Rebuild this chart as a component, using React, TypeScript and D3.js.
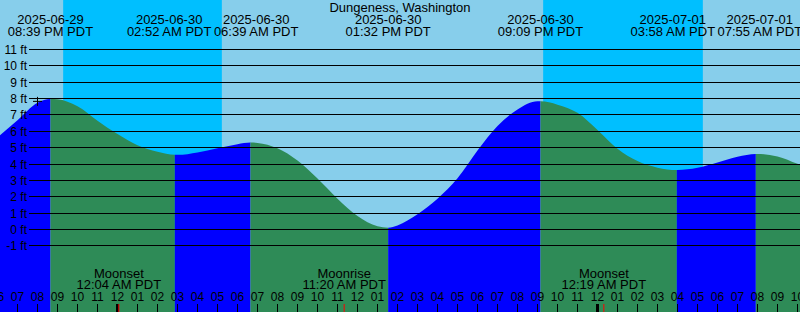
import React from "react";
import * as d3 from "d3";

const title = "Dungeness, Washington";

// Tide extremes (local PDT wall-clock)
const tideTimes = [
  "2025-06-29 20:39",
  "2025-06-30 02:52",
  "2025-06-30 06:39",
  "2025-06-30 13:32",
  "2025-06-30 21:09",
  "2025-07-01 03:58",
  "2025-07-01 07:55",
];
const tideHeights = [7.95, 4.53, 5.28, 0.08, 7.8, 3.61, 4.59];
const tideTypes = ["H", "L", "H", "L", "H", "L", "H"];

// Hourly tide readings, starting at hourlyStart, one per hour (ft)
const hourlyStart = "2025-06-29 18:00";
const hourlyHeights = [
  5.6, 6.65, 7.72, 7.93, 7.5, 6.62, 5.8, 5.12, 4.72, 4.53, 4.68, 4.93, 5.18,
  5.26, 4.93, 4.18, 3.08, 1.85, 0.8, 0.17, 0.22, 0.9, 1.85, 3.1, 4.8, 6.3, 7.3,
  7.8, 7.6, 7.1, 6.05, 4.9, 4.15, 3.75, 3.61, 3.75, 4.07, 4.42, 4.59, 4.43,
  3.98, 3.5,
];

// Sun: night intervals [sunset, sunrise]
const sunsets = ["2025-06-29 21:17", "2025-06-30 21:17"];
const sunrises = ["2025-06-30 05:13", "2025-07-01 05:16"];

// Moon events
const moonTimes = ["2025-06-30 00:04", "2025-06-30 11:20", "2025-07-01 00:19"];
const moonNames = ["Moonset", "Moonrise", "Moonset"];

// Current time marker
const nowTime = "2025-06-29 20:00";
const nowHeight = 7.8;

const yTicks = [-1, 0, 1, 2, 3, 4, 5, 6, 7, 8, 9, 10, 11];
const domainStart = "2025-06-29 18:07:30";
const domainEnd = "2025-07-01 10:07:30";

const W = 800;
const H = 312;
const FONT = "'Liberation Sans', Arial, Helvetica, sans-serif";
const SKY = "#87CEEB";
const NIGHT = "#00BFFF";
const RISE = "#0000FF";
const FALL = "#2E8B57";

const parse = d3.utcParse("%Y-%m-%d %H:%M");
const parseS = d3.utcParse("%Y-%m-%d %H:%M:%S");
const fmtDate = d3.utcFormat("%Y-%m-%d");
const fmtTime = d3.utcFormat("%I:%M %p PDT");
const fmtHour = d3.utcFormat("%I");

export default function App() {
  const x = d3
    .scaleUtc()
    .domain([parseS(domainStart) as Date, parseS(domainEnd) as Date])
    .range([0, W]);
  const y = d3.scaleLinear().domain([0, 11]).range([229, 49]);

  const events = tideTimes.map((s, i) => ({
    t: parse(s) as Date,
    h: tideHeights[i],
    type: tideTypes[i],
  }));
  const start = parse(hourlyStart) as Date;
  const hourly = hourlyHeights.map((h, i) => ({
    t: d3.utcHour.offset(start, i),
    h,
  }));
  const pts = [...hourly, ...events.map((e) => ({ t: e.t, h: e.h }))].sort(
    (a, b) => +a.t - +b.t
  );

  const area = d3
    .area<{ t: Date; h: number }>()
    .x((d) => x(d.t))
    .y0(H)
    .y1((d) => y(d.h))
    .curve(d3.curveMonotoneX);
  const areaPath = area(pts) || "";

  // segments
  const bounds = [0, ...events.map((e) => x(e.t)), W];
  const segColors = events.map((e) => (e.type === "H" ? RISE : FALL));
  segColors.push(events[events.length - 1].type === "H" ? FALL : RISE);

  // top labels with collision avoidance
  const minGap = 87;
  const cx = events.map((e) => x(e.t));
  for (let k = 0; k < 5; k++) {
    for (let i = 1; i < cx.length; i++) {
      const d = cx[i] - cx[i - 1];
      if (d < minGap) {
        const s = (minGap - d) / 2;
        cx[i - 1] -= s;
        cx[i] += s;
      }
    }
  }

  const hours = d3.utcHour.range(x.domain()[0], x.domain()[1]);
  const hoursAll = d3.utcHour.range(
    d3.utcHour.offset(x.domain()[0], -1),
    d3.utcHour.offset(x.domain()[1], 1)
  );

  const nx = x(parse(nowTime) as Date);
  const ny = y(nowHeight);

  return (
    <svg
      width={W}
      height={H}
      style={{ position: "absolute", left: 0, top: 0, fontFamily: FONT }}
    >
      <defs>
        {bounds.slice(0, -1).map((b, i) => (
          <clipPath id={`seg${i}`} key={i}>
            <rect x={b} y={0} width={bounds[i + 1] - b} height={H} />
          </clipPath>
        ))}
      </defs>
      <rect x={0} y={0} width={W} height={H} fill={SKY} />
      {sunsets.map((s, i) => {
        const a = x(parse(s) as Date);
        const b = x(parse(sunrises[i]) as Date);
        return <rect key={i} x={a} y={0} width={b - a} height={H} fill={NIGHT} />;
      })}
      {segColors.map((c, i) => (
        <path key={i} d={areaPath} fill={c} clipPath={`url(#seg${i})`} />
      ))}
      {yTicks.map((v) => {
        const yy = Math.round(y(v)) + 0.5;
        return (
          <g key={v}>
            <line x1={29} x2={W} y1={yy} y2={yy} stroke="#000" strokeWidth={1} />
            <text
              x={27}
              y={yy}
              dy="0.36em"
              textAnchor="end"
              fontSize={12}
              fill="#000"
            >
              {`${v} ft`}
            </text>
          </g>
        );
      })}
      {/* current marker */}
      <line x1={nx - 4.5} x2={nx + 4.5} y1={ny} y2={ny} stroke="#000" strokeWidth={1} />
      <line x1={nx} x2={nx} y1={ny - 4.5} y2={ny + 4.5} stroke="#000" strokeWidth={1} />

      {/* title & tide labels */}
      <text x={W / 2} y={12} textAnchor="middle" fontSize={13} fill="#000">
        {title}
      </text>
      {events.map((e, i) => (
        <g key={i}>
          <text x={cx[i]} y={24} textAnchor="middle" fontSize={13} fill="#000">
            {fmtDate(e.t)}
          </text>
          <text x={cx[i]} y={36} textAnchor="middle" fontSize={13} fill="#000">
            {fmtTime(e.t)}
          </text>
        </g>
      ))}

      {/* moon labels */}
      {moonTimes.map((s, i) => {
        const t = parse(s) as Date;
        const mx = x(t);
        return (
          <g key={i}>
            <text x={mx} y={278} textAnchor="middle" fontSize={13} fill="#000">
              {moonNames[i]}
            </text>
            <text x={mx} y={289} textAnchor="middle" fontSize={13} fill="#000">
              {fmtTime(t)}
            </text>
          </g>
        );
      })}

      {/* hour axis */}
      {hoursAll.map((t, i) => {
        const hx = x(t);
        const midnight = t.getUTCHours() === 0;
        return (
          <g key={i}>
            {midnight ? (
              <rect x={hx - 1.5} y={304} width={3} height={8} fill="#000" />
            ) : (
              <line x1={hx} x2={hx} y1={304} y2={312} stroke="#000" strokeWidth={1} />
            )}
            <text x={hx} y={301} textAnchor="middle" fontSize={12} fill="#000">
              {fmtHour(t)}
            </text>
          </g>
        );
      })}
      {moonTimes.map((s, i) => {
        const mx = x(parse(s) as Date);
        return (
          <line key={i} x1={mx} x2={mx} y1={304} y2={312} stroke="#FF0000" strokeWidth={1} />
        );
      })}
    </svg>
  );
}
